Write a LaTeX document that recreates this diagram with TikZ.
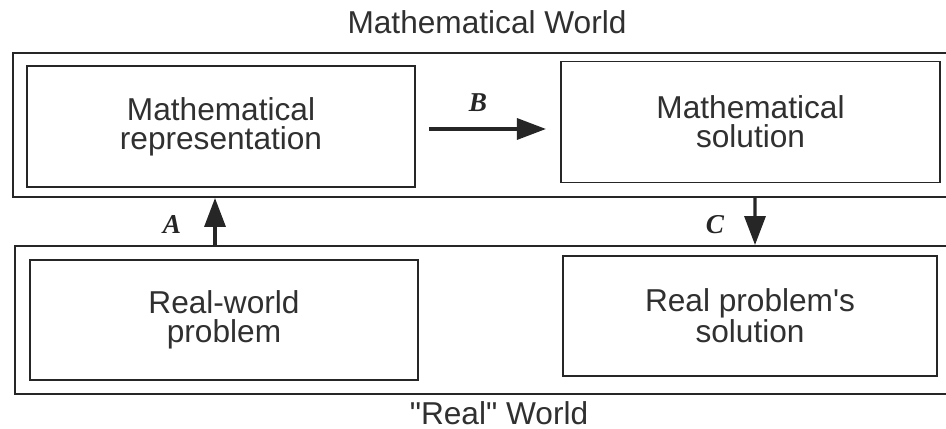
\documentclass[tikz,border=0pt]{standalone}
\usepackage{fontspec}
\setmainfont{Liberation Sans}
\newfontfamily\mwserif{Liberation Serif}
\usetikzlibrary{arrows.meta,positioning}
\definecolor{MwInk}{RGB}{38,38,38}
\definecolor{MwText}{RGB}{48,48,48}
\tikzset{
  mw/frame/.style={
    draw=MwInk,
    line width=1.1pt,
    anchor=west,
    minimum width=19cm,
    inner sep=0pt
  },
  mw/box/.style={
    draw=MwInk,
    line width=1.1pt,
    fill=white,
    align=center,
    text=MwText,
    minimum height=2.42cm,
    inner sep=0pt,
    font=\fontsize{18}{16.5}\selectfont
  },
  mw/arrow/.style={-{Triangle[length=0.58cm,width=0.42cm]}, line width=1.9pt, draw=MwInk},
  mw/title/.style={font=\fontsize{18}{20}\selectfont, text=MwText, align=center},
  mw/label/.style={font=\mwserif\bfseries\itshape\fontsize{15.5}{17}\selectfont, text=MwInk}
}

\begin{document}
\begin{tikzpicture}[x=1cm,y=1cm]
  \useasboundingbox (0,0) rectangle (18.92,8.58);
  \clip (0,0) rectangle (18.92,8.58);
  % the two worlds
  \node[mw/title] (mathtitle) at (9.74,8.14) {Mathematical World};
  \node[mw/frame,minimum height=2.88cm] (mathframe) at (0.24,6.08) {};
  \node[mw/frame,minimum height=2.96cm] (realframe) at (0.28,2.18) {};
  \node[mw/title] (realtitle) at (9.98,0.32) {\textquotedbl Real\textquotedbl{} World};
  % boxes
  \node[mw/box,minimum width=7.76cm] (repr) at (4.42,6.05) {Mathematical\\representation};
  \node[mw/box,minimum width=7.58cm] (msol) at (15.01,6.14) {Mathematical\\solution};
  \node[mw/box,minimum width=7.76cm,minimum height=2.40cm] (problem) at (4.48,2.18) {Real-world\\problem};
  \node[mw/box,minimum width=7.48cm,minimum height=2.40cm] (rsol) at (15.00,2.26) {Real problem\textquotesingle s\\solution};
  % steps
  \draw[mw/arrow] ([xshift=-0.18cm]problem.north |- realframe.north) -- ([xshift=-0.12cm]repr.south |- mathframe.south);
  \draw[mw/arrow] (repr.east) ++(0.26,-0.05) -- ++(2.34,0);
  \draw[mw/arrow] ([xshift=0.09cm]msol.south |- mathframe.south) -- ([xshift=0.1cm]rsol.north |- realframe.north);
  \node[mw/label] (labA) at (3.44,4.08) {A};
  \node[mw/label] (labB) at (9.56,6.52) {B};
  \node[mw/label] (labC) at (14.30,4.08) {C};
\end{tikzpicture}
\end{document}
